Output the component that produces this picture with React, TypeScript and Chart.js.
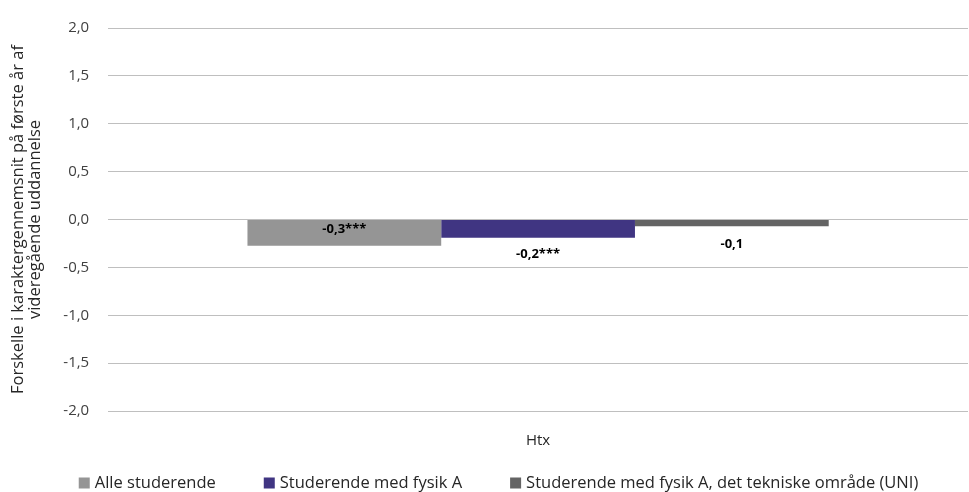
import React, { useEffect, useRef } from "react";
import { Chart, registerables } from "chart.js";

Chart.register(...registerables);

const categories = ["Htx"];
const seriesNames = [
  "Alle studerende",
  "Studerende med fysik A",
  "Studerende med fysik A, det tekniske område (UNI)",
];
const allStuderende = [-0.275];
const fysikA = [-0.19];
const fysikATek = [-0.07];
const valueLabels = [["-0,3***"], ["-0,2***"], ["-0,1"]];
const yTitle = ["Forskelle i karaktergennemsnit på første år af", "videregående uddannelse"];

const colors = ["#959595", "#403582", "#646464"];
const labelOffsets = [-17, 17, 18];
const FONT = "'Open Sans', 'Noto Sans', sans-serif";

const valueLabelPlugin = {
  id: "valueLabels",
  afterDatasetsDraw(chart: any) {
    const ctx = chart.ctx;
    ctx.save();
    ctx.font = `bold 13px ${FONT}`;
    ctx.fillStyle = "#000000";
    ctx.textAlign = "center";
    ctx.textBaseline = "middle";
    chart.data.datasets.forEach((ds: any, di: number) => {
      const meta = chart.getDatasetMeta(di);
      meta.data.forEach((bar: any, i: number) => {
        const txt = valueLabels[di][i];
        ctx.fillText(txt, bar.x, bar.y + labelOffsets[di]);
      });
    });
    ctx.restore();
  },
};

const legendPlugin = {
  id: "customLegend",
  afterDraw(chart: any) {
    const ctx = chart.ctx;
    ctx.save();
    ctx.font = `16.5px ${FONT}`;
    ctx.textBaseline = "middle";
    ctx.textAlign = "left";
    const box = 11;
    const gapBox = 5;
    const gapItem = 48;
    const items = chart.data.datasets.map((ds: any) => ({
      label: ds.label,
      color: ds.backgroundColor,
      w: box + gapBox + ctx.measureText(ds.label).width,
    }));
    const total = items.reduce((s: number, it: any) => s + it.w, 0) + gapItem * (items.length - 1);
    let x = chart.width / 2 + 14 - total / 2;
    const y = 483;
    items.forEach((it: any) => {
      ctx.fillStyle = it.color;
      ctx.fillRect(x, y - box / 2, box, box);
      ctx.fillStyle = "#262626";
      ctx.fillText(it.label, x + box + gapBox, y);
      x += it.w + gapItem;
    });
    ctx.restore();
  },
};

export default function App() {
  const ref = useRef<HTMLCanvasElement | null>(null);
  useEffect(() => {
    if (!ref.current) return;
    const chart = new Chart(ref.current, {
      type: "bar",
      data: {
        labels: categories,
        datasets: [
          { label: seriesNames[0], data: allStuderende, backgroundColor: colors[0] },
          { label: seriesNames[1], data: fysikA, backgroundColor: colors[1] },
          { label: seriesNames[2], data: fysikATek, backgroundColor: colors[2] },
        ],
      },
      options: {
        responsive: false,
        animation: false,
        maintainAspectRatio: false,
        categoryPercentage: 0.676,
        barPercentage: 1,
        layout: { padding: { top: 6, right: 1, bottom: 21, left: 2 } },
        plugins: {
          legend: { display: false },
          tooltip: { enabled: false },
        },
        scales: {
          x: {
            grid: { display: false, drawTicks: false },
            border: { display: false },
            ticks: { color: "#262626", font: { family: FONT, size: 15 }, padding: 21 },
          },
          y: {
            min: -2,
            max: 2,
            ticks: {
              stepSize: 0.5,
              color: "#404040",
              font: { family: FONT, size: 15 },
              padding: 19,
              callback: (v: any) => Number(v).toFixed(1).replace(".", ","),
            },
            grid: { color: "#bfbfbf", lineWidth: 1, drawTicks: false },
            border: { display: false },
            title: {
              display: true,
              text: yTitle,
              color: "#262626",
              font: { family: FONT, size: 16.5, lineHeight: 1.07 },
              padding: { top: 7, bottom: 0 },
            },
          },
        },
      },
      plugins: [valueLabelPlugin, legendPlugin],
    });
    return () => chart.destroy();
  }, []);
  return (
    <div style={{ position: "absolute", left: 0, top: 0, width: 969, height: 492, background: "#fff" }}>
      <canvas ref={ref} width={969} height={492} style={{ display: "block" }} />
    </div>
  );
}
